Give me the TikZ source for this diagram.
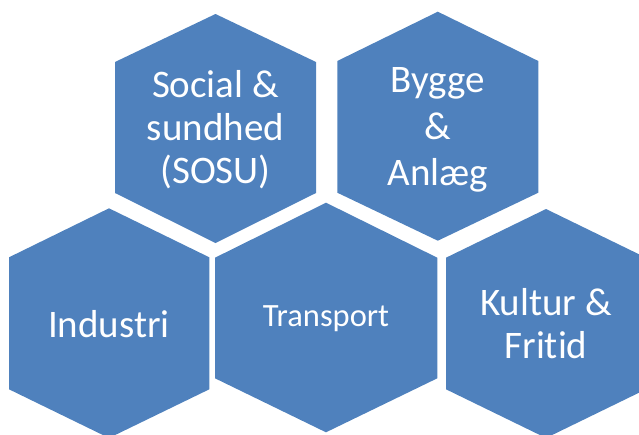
\documentclass[tikz,border=0pt]{standalone}
\usepackage{fontspec}
\setmainfont[Ligatures={NoCommon}]{Carlito}
\definecolor{hexblue}{RGB}{79,129,189}
\tikzset{
  hexfill/.style={fill=hexblue, draw=none},
  hexlabel/.style={text=white, align=center, inner sep=0pt, font=\fontsize{39}{43}\selectfont},
  widelabel/.style={hexlabel, font=\fontsize{39}{46.5}\selectfont},
  smalllabel/.style={hexlabel, font=\fontsize{32.5}{38}\selectfont}
}
\begin{document}
\begin{tikzpicture}[x=1pt,y=-1pt]
\useasboundingbox (0,0) rectangle (639,434);
\clip (0,0) rectangle (639,434);
% hexagons
\fill[hexfill] (215.5,14) -- (316,62) -- (316,193) -- (215.5,243) -- (115,193) -- (115,62) -- cycle;
\fill[hexfill] (437.8,11.7) -- (538.3,61) -- (538.3,192.7) -- (437.8,240.7) -- (337.3,192.7) -- (337.3,61) -- cycle;
\fill[hexfill] (109,208.3) -- (209.3,257.3) -- (209.3,389.3) -- (109,438) -- (9,389.3) -- (9,257.3) -- cycle;
\fill[hexfill] (326,202.7) -- (437.3,257.7) -- (437.3,378.3) -- (326,432.3) -- (215,378.3) -- (215,257.7) -- cycle;
\fill[hexfill] (546,209) -- (646,257.7) -- (646,389.3) -- (546,438) -- (446,389.3) -- (446,257.7) -- cycle;
% labels
\node[hexlabel] (sosu) at (215.5,130) {Social \&\\sundhed\\(SOSU)};
\node[widelabel] (bygge) at (437.8,130) {Bygge\\\&\\Anlæg};
\node[hexlabel] (industri) at (109,324) {Industri};
\node[smalllabel] (transport) at (326,319) {Transport};
\node[hexlabel] (kultur) at (546,324) {Kultur \&\\Fritid};
\end{tikzpicture}
\end{document}
